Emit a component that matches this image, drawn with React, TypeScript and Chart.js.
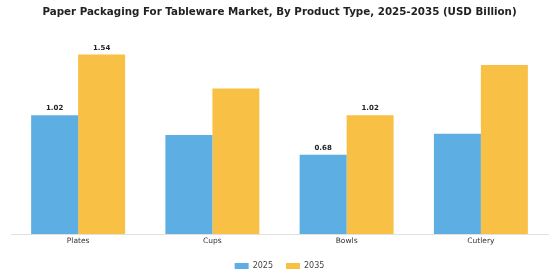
import React, { useEffect, useRef } from "react";
import { Chart, registerables } from "chart.js";

Chart.register(...registerables);

const categories = ["Plates", "Cups", "Bowls", "Cutlery"];
const values2025 = [1.02, 0.85, 0.68, 0.86];
const values2035 = [1.54, 1.25, 1.02, 1.45];
const labels2025: (string | null)[] = ["1.02", null, "0.68", null];
const labels2035: (string | null)[] = ["1.54", null, "1.02", null];
const seriesNames = ["2025", "2035"];
const titleText = "Paper Packaging For Tableware Market, By Product Type, 2025-2035 (USD Billion)";

const BLUE = "#5DAEE2";
const YELLOW = "#F8C146";

const valueLabelPlugin = {
  id: "valueLabels",
  afterDatasetsDraw(chart: any) {
    const ctx = chart.ctx;
    const lbls = [labels2025, labels2035];
    ctx.save();
    ctx.font = "bold 7px 'DejaVu Sans'";
    ctx.fillStyle = "#222";
    ctx.textAlign = "center";
    ctx.textBaseline = "bottom";
    chart.data.datasets.forEach((_: any, di: number) => {
      const meta = chart.getDatasetMeta(di);
      meta.data.forEach((el: any, i: number) => {
        const t = lbls[di][i];
        if (t) ctx.fillText(t, el.x, el.y - 3);
      });
    });
    ctx.restore();
  },
};

export default function App() {
  const ref = useRef<HTMLCanvasElement>(null);
  useEffect(() => {
    if (!ref.current) return;
    const chart = new Chart(ref.current, {
      type: "bar",
      data: {
        labels: categories,
        datasets: [
          { label: seriesNames[0], data: values2025, backgroundColor: BLUE, categoryPercentage: 0.7, barPercentage: 1.0 },
          { label: seriesNames[1], data: values2035, backgroundColor: YELLOW, categoryPercentage: 0.7, barPercentage: 1.0 },
        ],
      },
      options: {
        responsive: false,
        animation: false,
        layout: { padding: { top: 6, left: 11, right: 12, bottom: 0 } },
        plugins: {
          title: {
            display: true,
            text: titleText,
            font: { family: "'DejaVu Sans'", size: 10.3, weight: "bold" },
            color: "#222",
            padding: { top: 0, bottom: 17.6 },
          },
          legend: {
            position: "bottom",
            labels: {
              boxWidth: 14,
              boxHeight: 6,
              font: { family: "'DejaVu Sans'", size: 8 },
              color: "#444",
              padding: 13,
            },
          },
          tooltip: { enabled: false },
        },
        scales: {
          x: {
            grid: { display: false, drawTicks: false },
            border: { color: "#e0e0e0" },
            ticks: { font: { family: "'DejaVu Sans'", size: 7.5 }, color: "#333", padding: 3 },
          },
          y: { display: false, min: 0, max: 1.7 },
        },
      },
      plugins: [valueLabelPlugin],
    });
    return () => chart.destroy();
  }, []);
  return (
    <div style={{ position: "absolute", left: 0, top: 0, width: 560, height: 280, background: "#fff" }}>
      <canvas ref={ref} width={560} height={280} />
    </div>
  );
}
